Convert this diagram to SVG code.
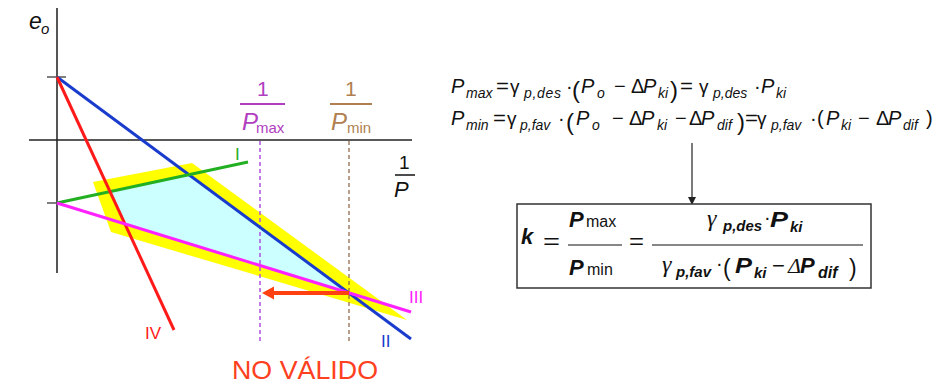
<svg xmlns="http://www.w3.org/2000/svg" width="941" height="385" viewBox="0 0 941 385">
<style>
text{font-family:"Liberation Sans",Arial,sans-serif;}
.it{font-style:italic}
.bi{font-style:italic;font-weight:bold}
.g{font-family:"Liberation Serif","Times New Roman",serif;font-style:italic}
.s{font-size:14px}
.m{font-size:20px}
.bs{font-size:15px}
.lb{font-size:17px}
.ln{fill:none;stroke-width:3;stroke-linecap:butt}
</style>
<rect width="941" height="385" fill="#ffffff"/>

<g id="regions">
  <polygon points="93,182 192,163 407,320 111,232" fill="#ffff00"/>
  <polygon points="110,191.6 189,174.7 349,293 125,224" fill="#ccffff"/>
</g>

<g id="axes">
  <line x1="57" y1="8" x2="57" y2="273" stroke="#555" stroke-width="2"/>
  <line x1="29" y1="140" x2="412" y2="140" stroke="#222" stroke-width="1.5"/>
  <line x1="47" y1="77" x2="66" y2="77" stroke="#555" stroke-width="1.5"/>
  <line x1="47" y1="203" x2="57" y2="203" stroke="#555" stroke-width="1.5"/>
  <text class="it" font-size="23" x="29" y="29" fill="#111">e</text>
  <text class="it" font-size="15" x="41" y="34" fill="#111">o</text>
  <text font-size="19" x="399" y="169" fill="#111">1</text>
  <line x1="395" y1="175" x2="415" y2="175" stroke="#111" stroke-width="1.5"/>
  <text class="it" font-size="22" x="394" y="197" fill="#111">P</text>
</g>

<g id="limits">
  <line x1="260" y1="141" x2="260" y2="343" stroke="#b050e0" stroke-width="1.5" stroke-dasharray="4,3"/>
  <line x1="349" y1="141" x2="349" y2="343" stroke="#8a6040" stroke-width="1.2" stroke-dasharray="4,3"/>
  <text font-size="21" x="257" y="96" fill="#b040c0">1</text>
  <line x1="240" y1="104" x2="285" y2="104" stroke="#b040c0" stroke-width="2"/>
  <text class="it" font-size="24" x="242" y="130" fill="#b040c0">P</text>
  <text font-size="15" x="256" y="133" fill="#b040c0">max</text>
  <text font-size="21" x="345" y="96" fill="#b08050">1</text>
  <line x1="330" y1="104" x2="372" y2="104" stroke="#b08050" stroke-width="2"/>
  <text class="it" font-size="24" x="331" y="130" fill="#b08050">P</text>
  <text font-size="15" x="347" y="133" fill="#b08050">min</text>
</g>

<g id="lines">
  <line class="ln" x1="57" y1="77" x2="411" y2="339" stroke="#1a3ccc"/>
  <line class="ln" x1="57" y1="203" x2="248" y2="162" stroke="#22b022"/>
  <line class="ln" x1="57" y1="77" x2="174" y2="330" stroke="#ff1a1a"/>
  <line class="ln" x1="57" y1="203" x2="411" y2="312" stroke="#ff22ff"/>
  <text class="lb" x="235" y="160" fill="#22b022">I</text>
  <text class="lb" x="381" y="347" fill="#1a3ccc">II</text>
  <text class="lb" x="409" y="303" fill="#ff22ff">III</text>
  <text class="lb" x="145" y="339" fill="#ff1a1a">IV</text>
</g>

<g id="shift-arrow">
  <line x1="349" y1="293" x2="273" y2="293" stroke="#ff4010" stroke-width="4"/>
  <polygon points="262,293 274,286.5 274,299.5" fill="#ff4010"/>
  <text font-size="25" x="232" y="379" fill="#ff4020" textLength="146" lengthAdjust="spacingAndGlyphs">NO VÁLIDO</text>
</g>

<g id="formulas" fill="#111">
  <text class="it m" x="451" y="93">P</text>
  <text class="it s" x="466" y="98">max</text>
  <text class="m" x="496" y="93" textLength="13" lengthAdjust="spacingAndGlyphs">=</text>
  <text font-size="19" x="510" y="93">γ</text>
  <text class="it s" x="524" y="98" textLength="37" lengthAdjust="spacing">p,des</text>
  <text class="m" x="566" y="93">·</text>
  <text font-size="24" x="572" y="98">(</text>
  <text class="it m" x="581" y="93">P</text>
  <text class="it s" x="597" y="98">o</text>
  <text class="m" x="614" y="93">−</text>
  <text class="m" x="631" y="93">Δ</text>
  <text class="it m" x="643" y="93">P</text>
  <text class="it s" x="658" y="98">ki</text>
  <text font-size="24" x="670" y="98">)</text>
  <text class="m" x="680" y="93" textLength="13" lengthAdjust="spacingAndGlyphs">=</text>
  <text font-size="19" x="699" y="93">γ</text>
  <text class="it s" x="713" y="98">p,des</text>
  <text class="m" x="754" y="93">·</text>
  <text class="it m" x="761" y="93">P</text>
  <text class="it s" x="776" y="98">ki</text>

  <text class="it m" x="451" y="125">P</text>
  <text class="it s" x="466" y="130">min</text>
  <text class="m" x="493" y="125" textLength="13" lengthAdjust="spacingAndGlyphs">=</text>
  <text font-size="19" x="507" y="125">γ</text>
  <text class="it s" x="520" y="130">p,fav</text>
  <text class="m" x="558" y="125">·</text>
  <text font-size="24" x="566" y="130">(</text>
  <text class="it m" x="576" y="125">P</text>
  <text class="it s" x="592" y="130">o</text>
  <text class="m" x="612" y="125">−</text>
  <text class="m" x="629" y="125">Δ</text>
  <text class="it m" x="641" y="125">P</text>
  <text class="it s" x="657" y="130">ki</text>
  <text class="m" x="675" y="125">−</text>
  <text class="m" x="689" y="125">Δ</text>
  <text class="it m" x="701" y="125">P</text>
  <text class="it s" x="717" y="130">dif</text>
  <text font-size="24" x="737" y="130">)</text>
  <text class="m" x="745" y="125" textLength="13" lengthAdjust="spacingAndGlyphs">=</text>
  <text font-size="19" x="757" y="125">γ</text>
  <text class="it s" x="771" y="130">p,fav</text>
  <text class="m" x="810" y="125">·</text>
  <text class="m" x="817" y="125">(</text>
  <text class="it m" x="826" y="125">P</text>
  <text class="it s" x="841" y="130">ki</text>
  <text class="m" x="858" y="125">−</text>
  <text class="m" x="876" y="125">Δ</text>
  <text class="it m" x="888" y="125">P</text>
  <text class="it s" x="903" y="130">dif</text>
  <text class="m" x="926" y="125">)</text>
</g>

<g id="connector">
  <line x1="692" y1="143" x2="692" y2="198" stroke="#333" stroke-width="1.3"/>
  <polygon points="692,205 688,197 696,197" fill="#222"/>
</g>

<g id="k-box" fill="#111">
  <rect x="517" y="204" width="354" height="84" fill="#fff" stroke="#333" stroke-width="1.5"/>
  <text class="bi" font-size="22" x="521" y="244">k</text>
  <text font-size="22" x="543" y="249" textLength="17" lengthAdjust="spacingAndGlyphs">=</text>
  <text class="bi" font-size="22" x="569" y="227">P</text>
  <text font-size="16" x="586" y="227">max</text>
  <line x1="568" y1="245" x2="622" y2="245" stroke="#111" stroke-width="1.2"/>
  <text class="bi" font-size="22" x="569" y="275">P</text>
  <text font-size="16" x="587" y="275">min</text>
  <text font-size="22" x="629" y="249" textLength="15" lengthAdjust="spacingAndGlyphs">=</text>
  <line x1="652" y1="245" x2="863" y2="245" stroke="#111" stroke-width="1.2"/>
  <text class="g" font-size="24" x="707" y="226">γ</text>
  <text class="bi bs" x="723" y="231">p,des</text>
  <text font-size="20" x="764" y="224">·</text>
  <text class="bi" font-size="22" x="770" y="227" textLength="18" lengthAdjust="spacingAndGlyphs">P</text>
  <text class="bi bs" x="790" y="232">ki</text>
  <text class="g" font-size="24" x="662" y="272">γ</text>
  <text class="bi bs" x="676" y="277">p,fav</text>
  <text font-size="20" x="716" y="270">·</text>
  <text font-size="23" x="723" y="276">(</text>
  <text class="bi" font-size="22" x="735" y="273" textLength="17" lengthAdjust="spacingAndGlyphs">P</text>
  <text class="bi bs" x="754" y="278">ki</text>
  <text font-size="22" x="772" y="273">−</text>
  <text class="g" font-size="22" x="788" y="273">Δ</text>
  <text class="bi" font-size="22" x="800" y="273">P</text>
  <text class="bi" font-size="16" x="818" y="278">dif</text>
  <text font-size="23" x="849" y="276">)</text>
</g>
</svg>
